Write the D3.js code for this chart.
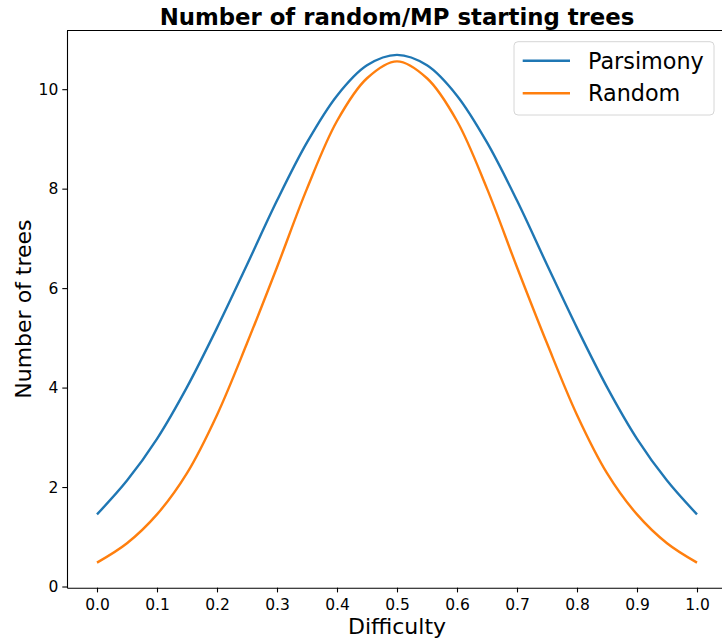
<!DOCTYPE html>
<html>
<head>
<meta charset="utf-8">
<script src="https://cdn.jsdelivr.net/npm/d3@7"></script>
<style>
  body { margin: 0; background: #fff; }
  svg { display: block; font-family: "DejaVu Sans", sans-serif; }
</style>
</head>
<body>
<svg class="displayContext" width="722" height="640"></svg>
<script>

var difficulty = [0.0, 0.05, 0.1, 0.15, 0.2, 0.25, 0.3, 0.35, 0.4, 0.45, 0.5,
                  0.55, 0.6, 0.65, 0.7, 0.75, 0.8, 0.85, 0.9, 0.95, 1.0];

var parsimonyData = [1.45, 2.13, 2.97, 4.01, 5.2, 6.47, 7.76, 8.93, 9.87, 10.48, 10.69,
                     10.48, 9.87, 8.93, 7.76, 6.47, 5.2, 4.01, 2.97, 2.13, 1.45];

var randomData = [0.48, 0.87, 1.45, 2.28, 3.45, 4.89, 6.42, 8.0, 9.36, 10.22, 10.56,
                  10.22, 9.36, 8.0, 6.42, 4.89, 3.45, 2.28, 1.45, 0.87, 0.48];

var seriesNames = ["Parsimony", "Random"];
var xTicks = [0.0, 0.1, 0.2, 0.3, 0.4, 0.5, 0.6, 0.7, 0.8, 0.9, 1.0];
var yTicks = [0, 2, 4, 6, 8, 10];

var colours = ["#1f77b4", "#ff7f0e"];

function drawChart(){

  displayContext = d3.select(".displayContext");

  var left = 67, right = 727, top = 30.5, bottom = 587.7;

  var scaleX = d3.scaleLinear()
                 .domain([-0.05, 1.05])
                 .range([left, right]);

  var scaleY = d3.scaleLinear()
                 .domain([-0.024, 11.18])
                 .range([bottom, top]);

  drawLine(parsimonyData, scaleX, scaleY, colours[0]);
  drawLine(randomData, scaleX, scaleY, colours[1]);

  // axes
  var x_axis = d3.axisBottom(scaleX)
                 .tickValues(xTicks)
                 .tickFormat(d3.format(".1f"))
                 .tickSize(4.7)
                 .tickSizeOuter(0)
                 .tickPadding(6.5);

  var y_axis = d3.axisLeft(scaleY)
                 .tickValues(yTicks)
                 .tickSize(4.7)
                 .tickSizeOuter(0)
                 .tickPadding(4);

  var gx = displayContext.append("g")
    .attr("transform", "translate(0," + bottom + ")")
    .call(x_axis);

  var gy = displayContext.append("g")
    .attr("transform", "translate(" + left + ",0)")
    .call(y_axis);

  [gx, gy].forEach(function(g){
    g.attr("font-family", "DejaVu Sans").attr("font-size", 15.5);
    g.selectAll("path, line").attr("stroke", "#000").attr("stroke-width", 1.1);
    g.selectAll("text").attr("fill", "#000");
  });

  // top spine
  displayContext.append("line")
    .attr("x1", left).attr("x2", right)
    .attr("y1", top).attr("y2", top)
    .attr("stroke", "#000").attr("stroke-width", 1.1);

  // title + labels
  displayContext.append("text")
    .attr("x", (left + right) / 2).attr("y", 25)
    .attr("text-anchor", "middle")
    .attr("font-size", 22.8).attr("font-weight", "bold")
    .text("Number of random/MP starting trees");

  displayContext.append("text")
    .attr("x", (left + right) / 2).attr("y", 634)
    .attr("text-anchor", "middle")
    .attr("font-size", 22)
    .text("Difficulty");

  displayContext.append("text")
    .attr("transform", "translate(31," + ((top + bottom) / 2) + ") rotate(-90)")
    .attr("text-anchor", "middle")
    .attr("font-size", 22)
    .text("Number of trees");

  // legend
  var legend = displayContext.append("g");
  legend.append("rect")
    .attr("x", 514).attr("y", 41.7)
    .attr("width", 200).attr("height", 73.3)
    .attr("rx", 4)
    .attr("fill", "#fff").attr("fill-opacity", 0.8)
    .attr("stroke", "#d6d6d6").attr("stroke-width", 1);

  seriesNames.forEach(function(name, i){
    var ly = 60.7 + i * 32.6;
    legend.append("line")
      .attr("x1", 522.7).attr("x2", 570)
      .attr("y1", ly).attr("y2", ly)
      .attr("stroke", colours[i]).attr("stroke-width", 2.4);
    legend.append("text")
      .attr("x", 588).attr("y", ly)
      .attr("dy", "0.35em")
      .attr("font-size", 22.3)
      .text(name);
  });
}


function drawLine(data, sx, sy, colour){

  var lineFunction = d3.line()
    .x(function(d, i) { return sx(difficulty[i]) })
    .y(function(d) { return sy(d); })
    .curve(d3.curveCatmullRom);

  displayContext.append("path")
    .attr("d", lineFunction(data))
    .attr("stroke", colour)
    .attr("stroke-width", 2.4)
    .attr("stroke-linejoin", "round")
    .attr("fill", "none");
}

drawChart();
</script>
</body>
</html>
